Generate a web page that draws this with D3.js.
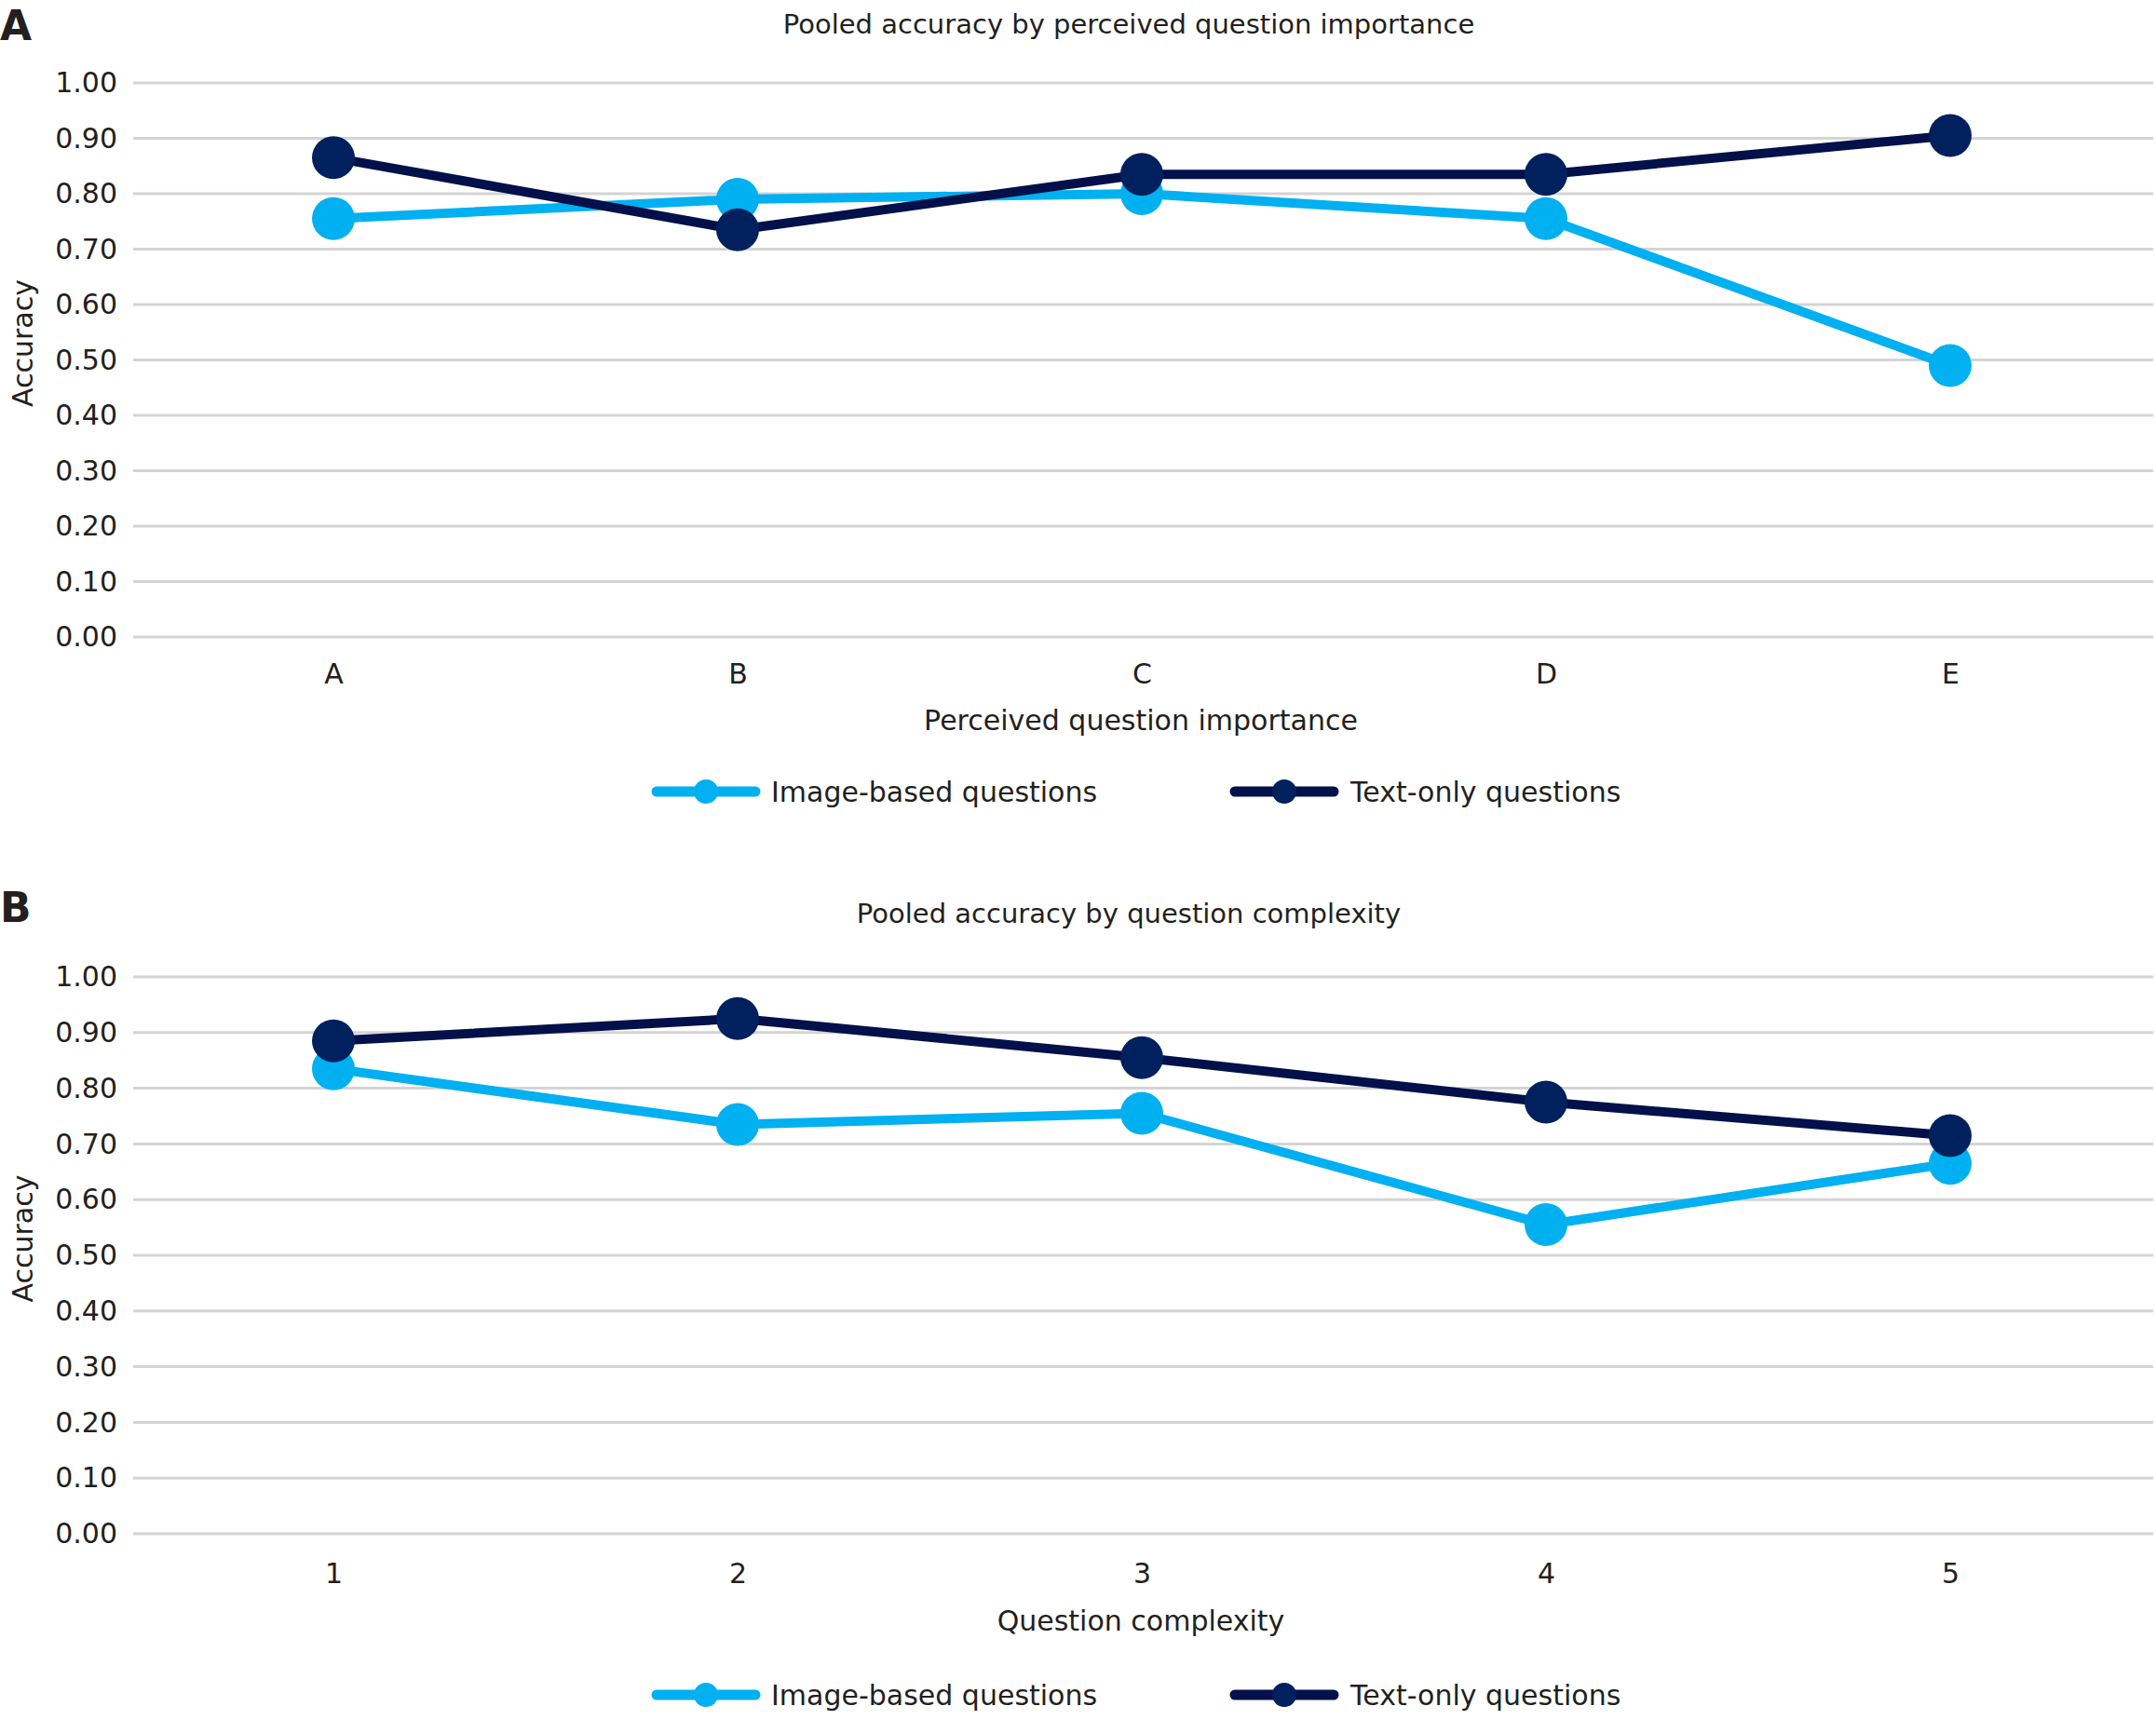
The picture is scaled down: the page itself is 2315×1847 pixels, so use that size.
<!DOCTYPE html>
<html>
<head>
<meta charset="utf-8">
<script src="https://cdn.jsdelivr.net/npm/d3@7"></script>
<style>
  body { margin: 0; background: #fff; }
  text { font-family: "DejaVu Sans", Verdana, sans-serif; fill: #231f20; }
</style>
</head>
<body>
<div id="chart"></div>
<script>
// data
const importanceCategories = ["A", "B", "C", "D", "E"];
const imageByImportance = [0.755, 0.79, 0.80, 0.755, 0.49];
const textByImportance = [0.865, 0.735, 0.835, 0.835, 0.905];

const complexityCategories = ["1", "2", "3", "4", "5"];
const imageByComplexity = [0.835, 0.735, 0.755, 0.555, 0.665];
const textByComplexity = [0.885, 0.925, 0.855, 0.775, 0.715];

const yTicks = [0, 0.1, 0.2, 0.3, 0.4, 0.5, 0.6, 0.7, 0.8, 0.9, 1.0];
const seriesNames = ["Image-based questions", "Text-only questions"];

const width = 2315;
const height = 1847;
const lightBlue = "#00b0f0";
const navyLine = "#03104a";
const navyMarker = "#00205e";

const svg = d3
  .select("#chart")
  .append("svg")
  .attr("width", width)
  .attr("height", height);

const panels = [
  {
    letter: "A",
    letterY: 43,
    title: "Pooled accuracy by perceived question importance",
    titleY: 36,
    xTitle: "Perceived question importance",
    categories: importanceCategories,
    image: imageByImportance,
    text: textByImportance,
    yTop: 89,
    yBottom: 684,
    tickLabelY: 734,
    xTitleY: 784,
    legendY: 850,
  },
  {
    letter: "B",
    letterY: 990,
    title: "Pooled accuracy by question complexity",
    titleY: 991,
    xTitle: "Question complexity",
    categories: complexityCategories,
    image: imageByComplexity,
    text: textByComplexity,
    yTop: 1049,
    yBottom: 1647,
    tickLabelY: 1700,
    xTitleY: 1751,
    legendY: 1820,
  },
];

const left = 141;
const right = 2311;

panels.forEach((p) => {
  const g = svg.append("g");

  const x = d3.scalePoint().domain(p.categories).range([left, right]).padding(0.5);
  const y = d3.scaleLinear().domain([0, 1]).range([p.yBottom, p.yTop]);

  // panel letter
  g.append("text")
    .attr("x", 0)
    .attr("y", p.letterY)
    .style("font-size", "44px")
    .style("font-weight", "bold")
    .text(p.letter);

  // title
  g.append("text")
    .attr("x", 1212)
    .attr("y", p.titleY)
    .attr("text-anchor", "middle")
    .style("font-size", "29px")
    .text(p.title);

  // horizontal gridlines
  g.selectAll(".grid")
    .data(yTicks)
    .enter()
    .append("line")
    .attr("x1", left + 2)
    .attr("x2", right + 1)
    .attr("y1", (d) => y(d))
    .attr("y2", (d) => y(d))
    .attr("stroke", "#d4d4d4")
    .attr("stroke-width", 3);

  // y axis, labels only
  const yAxis = d3.axisLeft(y).tickValues(yTicks).tickFormat(d3.format(".2f")).tickSize(0).tickPadding(0);
  const ya = g.append("g").attr("transform", "translate(126,0)").call(yAxis);
  ya.select(".domain").remove();
  ya.selectAll("text").style("font-size", "30px").attr("fill", "#231f20");

  // x axis, labels only
  const xAxis = d3.axisBottom(x).tickSize(0).tickPadding(0);
  const xa = g.append("g").attr("transform", `translate(0,${p.tickLabelY - 24})`).call(xAxis);
  xa.select(".domain").remove();
  xa.selectAll("text").style("font-size", "30px").attr("fill", "#231f20").attr("dy", "0");
  xa.selectAll("text").attr("y", 24);

  // axis titles
  g.append("text")
    .attr("x", 1225)
    .attr("y", p.xTitleY)
    .attr("text-anchor", "middle")
    .style("font-size", "30px")
    .text(p.xTitle);

  g.append("text")
    .attr("transform", `translate(35,${(p.yTop + p.yBottom) / 2 - 18}) rotate(-90)`)
    .attr("text-anchor", "middle")
    .style("font-size", "30px")
    .text("Accuracy");

  // series, image first so text-only sits on top
  const series = [
    { values: p.image, line: lightBlue, marker: lightBlue },
    { values: p.text, line: navyLine, marker: navyMarker },
  ];

  const line = d3
    .line()
    .x((d, i) => x(p.categories[i]))
    .y((d) => y(d));

  series.forEach((s) => {
    g.append("path")
      .datum(s.values)
      .attr("d", line)
      .attr("fill", "none")
      .attr("stroke", s.line)
      .attr("stroke-width", 10)
      .attr("stroke-linejoin", "round");

    g.selectAll(null)
      .data(s.values)
      .enter()
      .append("circle")
      .attr("cx", (d, i) => x(p.categories[i]))
      .attr("cy", (d) => y(d))
      .attr("r", 23)
      .attr("fill", s.marker);
  });

  // legend
  const legend = [
    { name: seriesNames[0], x0: 705, color: lightBlue, marker: lightBlue, textX: 828 },
    { name: seriesNames[1], x0: 1326, color: navyLine, marker: navyMarker, textX: 1450 },
  ];
  legend.forEach((l) => {
    g.append("line")
      .attr("x1", l.x0)
      .attr("x2", l.x0 + 106)
      .attr("y1", p.legendY)
      .attr("y2", p.legendY)
      .attr("stroke", l.color)
      .attr("stroke-width", 11)
      .attr("stroke-linecap", "round");
    g.append("circle")
      .attr("cx", l.x0 + 53)
      .attr("cy", p.legendY)
      .attr("r", 13)
      .attr("fill", l.marker);
    g.append("text")
      .attr("x", l.textX)
      .attr("y", p.legendY + 11)
      .style("font-size", "30px")
      .text(l.name);
  });
});
</script>
</body>
</html>
